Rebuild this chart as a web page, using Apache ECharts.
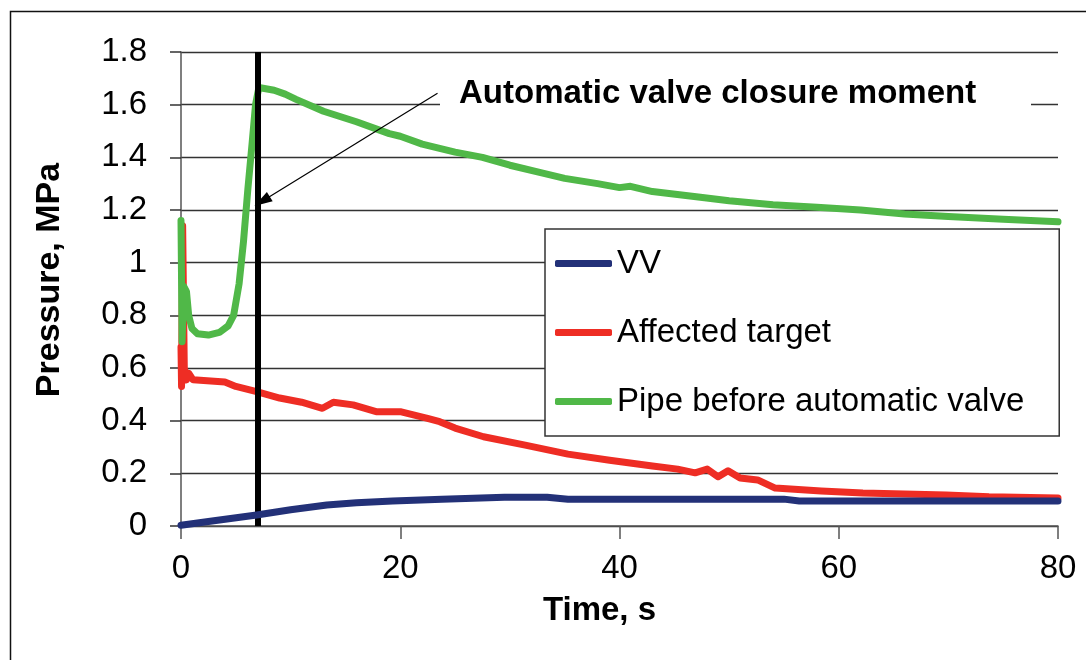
<!DOCTYPE html>
<html>
<head>
<meta charset="utf-8">
<title>Pressure vs time</title>
<script src="https://cdn.jsdelivr.net/npm/echarts@6/dist/echarts.min.js"></script>
<style>
    html, body { margin: 0; padding: 0; background: #fff; }
    #main { width: 1086px; height: 660px; }
</style>
</head>
<body>
<div id="main"></div>
<script>
// 数据：时间(s) 与压力(MPa)
var seriesNames = ['VV', 'Affected target', 'Pipe before automatic valve'];
var seriesColors = ['#233178', '#ee2d24', '#50b848'];

var vvTime = [0, 3, 6.9, 10, 13.3, 16, 19.3, 23.8, 29.5, 33.4, 35.3, 55, 56.4, 80];
var vvPressure = [0.003, 0.02, 0.042, 0.062, 0.08, 0.088, 0.095, 0.102, 0.109, 0.109, 0.102, 0.102, 0.095, 0.095];

var targetTime = [0, 0.05, 0.15, 0.3, 0.5, 0.7, 1.1, 4, 5, 6.9, 9, 11, 12.9, 13.9, 15.7, 17.8, 20, 22.4, 23.6, 25,
    27.6, 31.4, 35.3, 39.1, 43, 45.3, 46.9, 48, 49, 49.9, 51, 52.6, 54.2, 58.4, 62.2, 69.8, 73.7, 80];
var targetPressure = [0.68, 0.53, 1.14, 0.6, 0.555, 0.58, 0.555, 0.547, 0.53, 0.51, 0.486, 0.47, 0.447, 0.47, 0.46, 0.434, 0.434, 0.41, 0.396, 0.372,
    0.339, 0.307, 0.273, 0.25, 0.228, 0.216, 0.202, 0.216, 0.187, 0.21, 0.182, 0.175, 0.144, 0.133, 0.125, 0.118, 0.111, 0.106];

var pipeTime = [0, 0.1, 0.25, 0.5, 0.7, 1, 1.5, 2.5, 3.5, 4.3, 4.8, 5.3, 5.7, 6.1, 6.5, 6.8, 7.1, 8.5, 9.5, 10.5,
    13, 16, 19, 20, 22, 25, 27.5, 30, 33, 35, 38, 40, 41, 43, 47, 50, 54, 58, 62, 66, 70, 75, 80];
var pipePressure = [1.16, 0.7, 0.91, 0.89, 0.8, 0.75, 0.73, 0.725, 0.735, 0.76, 0.8, 0.92, 1.08, 1.28, 1.46, 1.6, 1.665, 1.655, 1.64, 1.62,
    1.575, 1.535, 1.49, 1.48, 1.45, 1.42, 1.4, 1.37, 1.34, 1.32, 1.3, 1.285, 1.29, 1.27, 1.25, 1.235, 1.22, 1.21, 1.2, 1.185, 1.175, 1.165, 1.155];

// 自动阀关闭时刻与箭头
var closureTime = [7];
var arrowFrom = [23.4, 1.643];
var arrowTo = [7.4, 1.233];
var noteText = 'Automatic valve closure moment';

function zip(xs, ys) {
    var out = [];
    for (var i = 0; i < xs.length; i++) {
        out.push([xs[i], ys[i]]);
    }
    return out;
}

var fontName = '"Liberation Sans", Arial, sans-serif';
var seriesData = [zip(vvTime, vvPressure), zip(targetTime, targetPressure), zip(pipeTime, pipePressure)];

var series = [];
for (var i = 0; i < seriesNames.length; i++) {
    series.push({
        name: seriesNames[i],
        type: 'line',
        data: seriesData[i],
        showSymbol: false,
        symbol: 'none',
        smooth: false,
        animation: false,
        lineStyle: { color: seriesColors[i], width: 7, cap: 'round', join: 'round' },
        itemStyle: { color: seriesColors[i] }
    });
}

// 竖线和箭头挂在第一个系列上
series[0].markLine = {
    silent: true,
    animation: false,
    label: { show: false },
    data: [
        [
            { coord: [closureTime[0], 0], symbol: 'none', lineStyle: { color: '#000', width: 6, type: 'solid' } },
            { coord: [closureTime[0], 1.8], symbol: 'none' }
        ],
        [
            { coord: arrowFrom, symbol: 'none', lineStyle: { color: '#000', width: 1.2, type: 'solid' } },
            { coord: arrowTo, symbol: 'triangle', symbolSize: [11, 18] }
        ]
    ]
};
series[0].z = 5;

var option = {
    backgroundColor: '#fff',
    animation: false,
    grid: { left: 181, right: 28, top: 52, bottom: 134, outerBoundsMode: 'none' },
    legend: {
        show: true,
        orient: 'vertical',
        left: 545,
        top: 229,
        data: seriesNames,
        padding: [18, 35, 18, 10],
        itemGap: 36,
        itemWidth: 57,
        itemHeight: 7,
        icon: 'roundRect',
        backgroundColor: '#fff',
        borderColor: '#333',
        borderWidth: 1.5,
        selectedMode: false,
        textStyle: { fontFamily: fontName, fontSize: 33, color: '#000' }
    },
    xAxis: {
        type: 'value',
        min: 0,
        max: 80,
        interval: 20,
        name: 'Time, s',
        nameLocation: 'middle',
        nameGap: 68,
        nameTextStyle: { fontFamily: fontName, fontSize: 33, fontWeight: 'bold', color: '#000', padding: [0, 40, 0, 0] },
        axisLine: { show: true, lineStyle: { color: '#555', width: 1.5 } },
        axisTick: { show: true, length: 13, lineStyle: { color: '#555', width: 1.5 } },
        axisLabel: { margin: 26, fontFamily: fontName, fontSize: 33, color: '#000' },
        splitLine: { show: false }
    },
    yAxis: {
        type: 'value',
        min: 0,
        max: 1.8,
        interval: 0.2,
        name: 'Pressure, MPa',
        nameLocation: 'middle',
        nameGap: 114,
        nameTextStyle: { fontFamily: fontName, fontSize: 34, fontWeight: 'bold', color: '#000', padding: [0, 0, 0, 18] },
        axisLine: { show: true, lineStyle: { color: '#555', width: 1.5 } },
        axisTick: { show: true, length: 11, lineStyle: { color: '#333', width: 1.5 } },
        axisLabel: { margin: 34, fontFamily: fontName, fontSize: 33, color: '#000' },
        splitLine: { show: true, lineStyle: { color: '#333', width: 1.3 } }
    },
    graphic: [
        {
            type: 'rect',
            left: 8,
            top: 9,
            shape: { width: 1100, height: 680 },
            style: { fill: 'none', stroke: '#111', lineWidth: 1.5 },
            silent: true,
            z: 0
        },
        {
            type: 'rect',
            shape: { x: 440, y: 80, width: 591, height: 29 },
            style: { fill: '#fff' },
            silent: true,
            z: 10
        },
        {
            type: 'text',
            x: 459,
            y: 94,
            style: {
                text: noteText,
                fontFamily: fontName,
                fontSize: 33,
                fontWeight: 'bold',
                fill: '#000',
                verticalAlign: 'middle'
            },
            silent: true,
            z: 11
        }
    ],
    series: series
};

var chart = echarts.init(document.getElementById('main'));
chart.setOption(option, true);
window.onresize = chart.resize;
</script>
</body>
</html>
